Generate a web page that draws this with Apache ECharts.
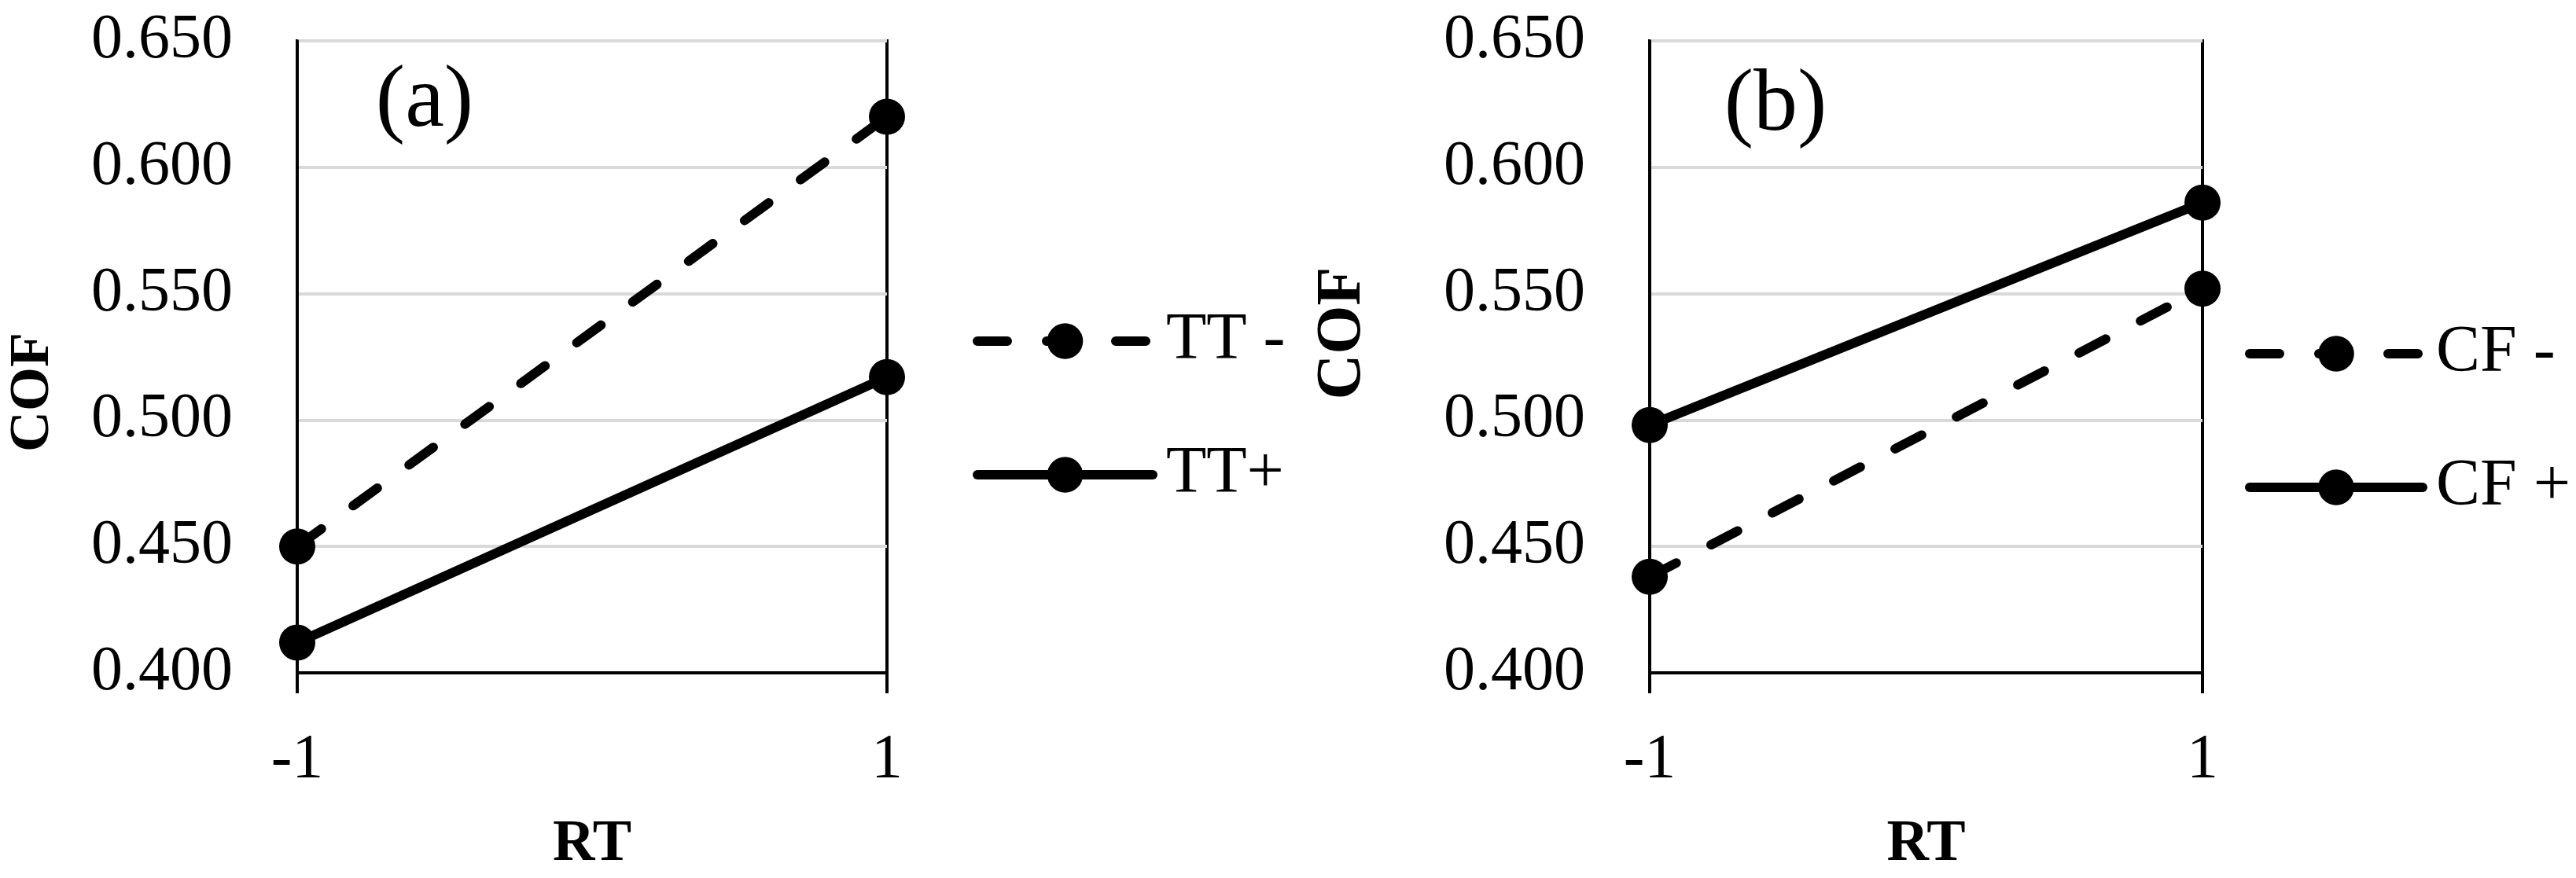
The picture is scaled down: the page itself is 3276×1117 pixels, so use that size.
<!DOCTYPE html>
<html>
<head>
<meta charset="utf-8">
<script src="https://cdn.jsdelivr.net/npm/echarts@6/dist/echarts.min.js"></script>
<style>
  html, body { margin: 0; padding: 0; background: #fff; }
  #main { width: 3276px; height: 1117px; }
</style>
</head>
<body>
<div id="main"></div>
<script>
  // data
  var rtLevels = ['-1', '1'];
  var ttMinus = [0.450, 0.620];
  var ttPlus = [0.412, 0.517];
  var cfMinus = [0.438, 0.552];
  var cfPlus = [0.498, 0.586];
  var yMin = 0.4, yMax = 0.65, yStep = 0.05;

  var FONT = '"Liberation Serif", "DejaVu Serif", serif';
  var chart = echarts.init(document.getElementById('main'));

  function xAxisOf(idx) {
    return {
      type: 'category',
      gridIndex: idx,
      data: rtLevels,
      boundaryGap: false,
      name: 'RT',
      nameLocation: 'middle',
      nameGap: 182,
      nameTextStyle: { fontFamily: FONT, fontWeight: 'bold', fontSize: 74, color: '#000' },
      axisLine: { lineStyle: { color: '#000', width: 4 } },
      axisTick: { show: true, length: 26, alignWithLabel: true, lineStyle: { color: '#000', width: 4 } },
      axisLabel: { margin: 72, fontFamily: FONT, fontSize: 80, color: '#000' },
      splitLine: { show: false }
    };
  }

  function yAxisOf(idx, gap, size, pad) {
    return {
      type: 'value',
      gridIndex: idx,
      min: yMin,
      max: yMax,
      interval: yStep,
      name: 'COF',
      nameLocation: 'middle',
      nameRotate: 90,
      nameGap: gap,
      nameTextStyle: { fontFamily: FONT, fontWeight: 'bold', fontSize: size, color: '#000', padding: pad },
      axisLine: { show: true, lineStyle: { color: '#000', width: 4 } },
      axisTick: { show: false },
      axisLabel: {
        margin: 82, fontFamily: FONT, fontSize: 80, color: '#000',
        formatter: function (v) { return v.toFixed(3); }
      },
      splitLine: { show: true, lineStyle: { color: '#d9d9d9', width: 4 } }
    };
  }

  function lineSeries(name, values, idx, dashed) {
    return {
      name: name,
      type: 'line',
      xAxisIndex: idx,
      yAxisIndex: idx,
      data: values,
      clip: false,
      symbol: 'circle',
      symbolSize: 46,
      itemStyle: { color: '#000' },
      lineStyle: dashed
        ? { color: '#000', width: 12, type: [38, 50], cap: 'round' }
        : { color: '#000', width: 12, cap: 'round' },
      emphasis: { disabled: true }
    };
  }

  function legendOf(left, top, names, width) {
    return {
      orient: 'vertical',
      left: left,
      top: top,
      data: names,
      itemWidth: width,
      itemHeight: 57,
      itemGap: 80,
      selectedMode: false,
      lineStyle: { width: 12, cap: 'round' },
      textStyle: { fontFamily: FONT, fontSize: 84, color: '#000', lineHeight: 90, padding: [0, 0, 0, 12] }
    };
  }

  chart.setOption({
    animation: false,
    backgroundColor: '#fff',
    grid: [
      { left: 378, top: 52, width: 750, height: 820, show: true, borderColor: '#000', borderWidth: 4 },
      { left: 2098, top: 52, width: 703, height: 820, show: true, borderColor: '#000', borderWidth: 4 }
    ],
    xAxis: [xAxisOf(0), xAxisOf(1)],
    yAxis: [yAxisOf(0, 300, 72, [0, 90, 0, 0]), yAxisOf(1, 350, 80, [0, 0, 0, 60])],
    legend: [
      legendOf(1232, 384, ['TT -', 'TT+'], 223),
      legendOf(2850, 400, ['CF -', 'CF +'], 220)
    ],
    graphic: [
      { type: 'text', x: 540, y: 131, style: { text: '(a)', font: '112px ' + FONT, fill: '#000', textAlign: 'center', textVerticalAlign: 'middle' } },
      { type: 'text', x: 2258, y: 136, style: { text: '(b)', font: '112px ' + FONT, fill: '#000', textAlign: 'center', textVerticalAlign: 'middle' } }
    ],
    series: [
      lineSeries('TT -', ttMinus, 0, true),
      lineSeries('TT+', ttPlus, 0, false),
      lineSeries('CF -', cfMinus, 1, true),
      lineSeries('CF +', cfPlus, 1, false)
    ]
  });
</script>
</body>
</html>
